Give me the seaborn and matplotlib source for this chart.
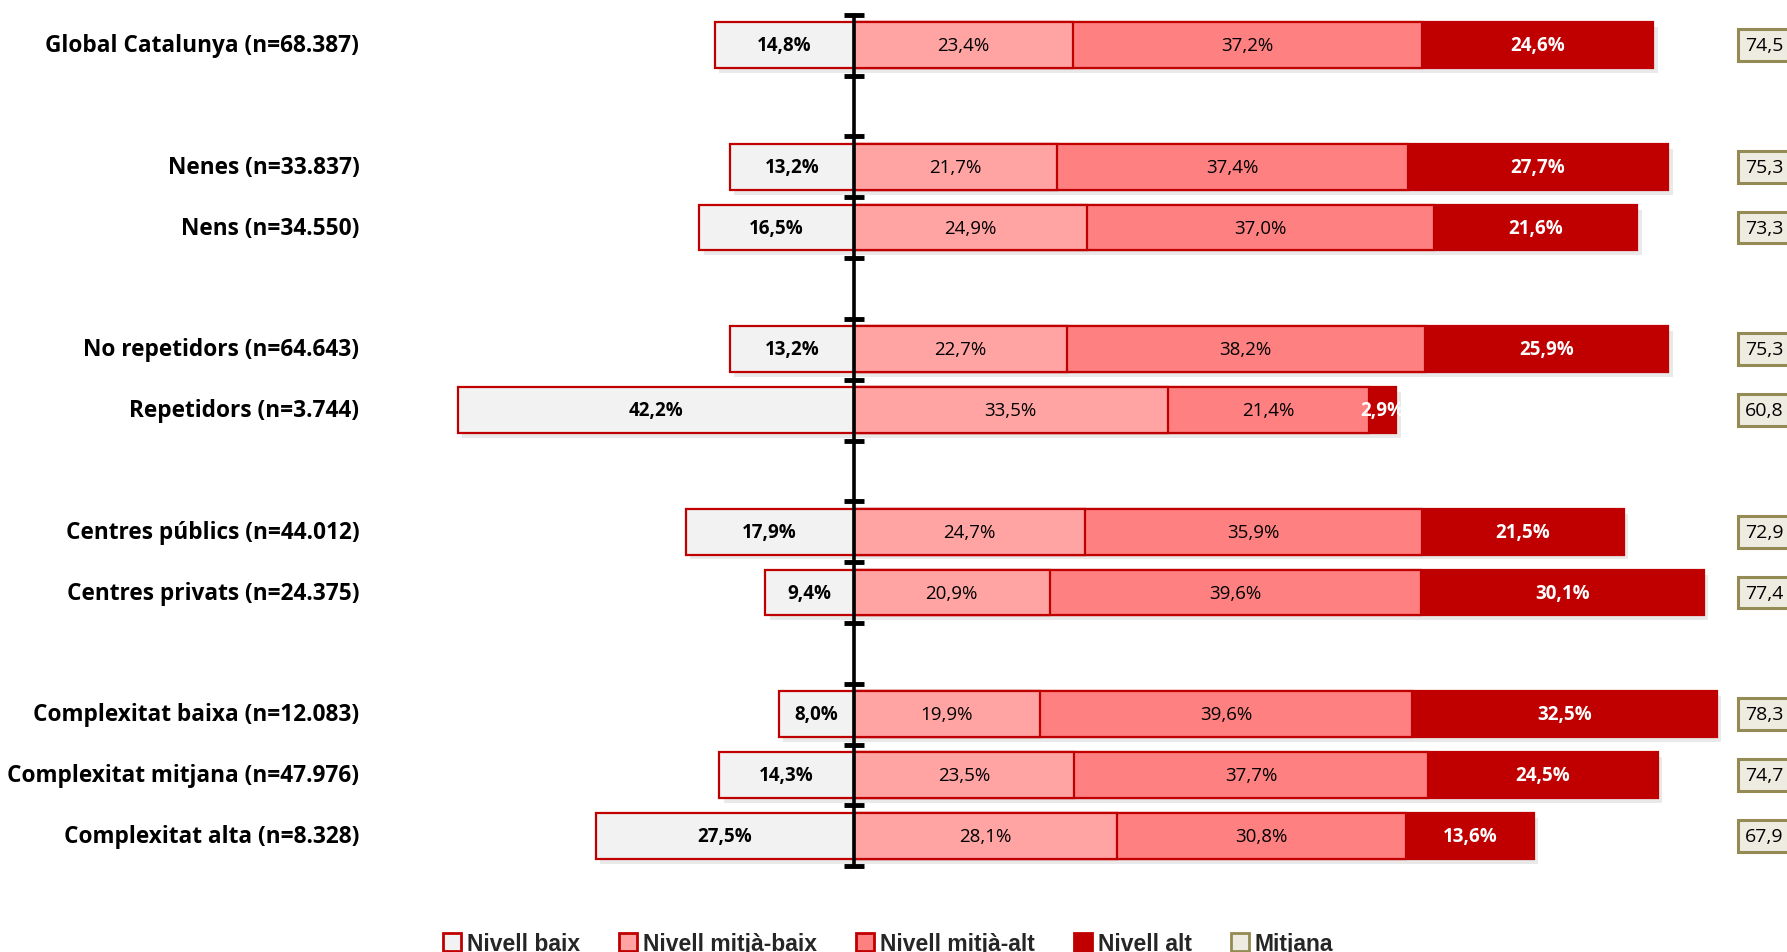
"""
plot.py - Diverging stacked bars of performance levels by group (Catalunya).
"""

import matplotlib.pyplot as plt
import numpy as np
import seaborn as sns
from matplotlib.patches import Patch

# ---- data -------------------------------------------------------------
groups = [
    "Global Catalunya (n=68.387)",
    "Nenes (n=33.837)",
    "Nens (n=34.550)",
    "No repetidors (n=64.643)",
    "Repetidors (n=3.744)",
    "Centres públics (n=44.012)",
    "Centres privats (n=24.375)",
    "Complexitat baixa (n=12.083)",
    "Complexitat mitjana (n=47.976)",
    "Complexitat alta (n=8.328)",
]
slots = [0, 2, 3, 5, 6, 8, 9, 11, 12, 13]

nivell_baix = [14.8, 13.2, 16.5, 13.2, 42.2, 17.9, 9.4, 8.0, 14.3, 27.5]
nivell_mitja_baix = [23.4, 21.7, 24.9, 22.7, 33.5, 24.7, 20.9, 19.9, 23.5, 28.1]
nivell_mitja_alt = [37.2, 37.4, 37.0, 38.2, 21.4, 35.9, 39.6, 39.6, 37.7, 30.8]
nivell_alt = [24.6, 27.7, 21.6, 25.9, 2.9, 21.5, 30.1, 32.5, 24.5, 13.6]
mitjana = [74.5, 75.3, 73.3, 75.3, 60.8, 72.9, 77.4, 78.3, 74.7, 67.9]

legend_labels = ["Nivell baix", "Nivell mitjà-baix", "Nivell mitjà-alt", "Nivell alt", "Mitjana"]

# ---- style ------------------------------------------------------------
RED = "#c00000"
C_BAIX = "#f2f2f2"
C_MBAIX = "#ffa3a3"
C_MALT = "#ff8080"
C_ALT = RED
C_MEAN = "#eeece1"
C_MEAN_EDGE = "#948a54"

sns.set_theme(style="white")
plt.rcParams["font.family"] = ["Open Sans", "DejaVu Sans"]

fig = plt.figure(figsize=(17.87, 9.53), dpi=100)
ax = fig.add_axes([0, 0, 1, 1])

y = np.array(slots, dtype=float)
baix = np.array(nivell_baix)
mb = np.array(nivell_mitja_baix)
ma = np.array(nivell_mitja_alt)
alt = np.array(nivell_alt)

# soft shadow under each bar
ax.barh(y + 0.08, baix + mb + ma + alt, left=-baix + 0.5, height=0.75,
        color="#d0d0d0", alpha=0.45, zorder=0.5, linewidth=0)

# stacked segments drawn as overlapping cumulative bars
bar_kw = dict(orient="y", native_scale=True, width=0.75, errorbar=None,
              saturation=1, linewidth=1.6, ax=ax, zorder=2)
sns.barplot(x=mb + ma + alt, y=y, color=C_ALT, edgecolor=RED, **bar_kw)
sns.barplot(x=mb + ma, y=y, color=C_MALT, edgecolor=RED, **bar_kw)
sns.barplot(x=mb, y=y, color=C_MBAIX, edgecolor=RED, **bar_kw)
sns.barplot(x=-baix, y=y, color=C_BAIX, edgecolor=RED, **bar_kw)


def fmt(v):
    return f"{v:.1f}%".replace(".", ",")


txt_size = 13.5
for i, yy in enumerate(y):
    ax.text(-baix[i] / 2, yy, fmt(baix[i]), ha="center", va="center",
            fontsize=txt_size, fontweight="bold", color="black", zorder=5)
    ax.text(mb[i] / 2, yy, fmt(mb[i]), ha="center", va="center",
            fontsize=txt_size, color="black", zorder=5)
    ax.text(mb[i] + ma[i] / 2, yy, fmt(ma[i]), ha="center", va="center",
            fontsize=txt_size, color="black", zorder=5)
    ax.text(mb[i] + ma[i] + alt[i] / 2, yy, fmt(alt[i]), ha="center", va="center",
            fontsize=txt_size, fontweight="bold", color="white", zorder=5)
    # group label
    ax.text(-52.7, yy, groups[i], ha="right", va="center",
            fontsize=16.3, fontweight="bold", color="black", zorder=5)
    # mean box
    ax.text(95.0, yy, f"{mitjana[i]:.1f}".replace(".", ","), ha="left", va="center",
            fontsize=14, color="black", zorder=5,
            bbox=dict(boxstyle="square,pad=0.35", facecolor=C_MEAN,
                      edgecolor=C_MEAN_EDGE, linewidth=2.2))

# central axis with tick marks at slot boundaries
ax.plot([0, 0], [-0.5, 13.5], color="black", linewidth=2.6, zorder=4)
bounds = np.arange(-0.5, 14.0, 1.0)
ax.plot(np.zeros_like(bounds), bounds, linestyle="none", marker="_",
        markersize=14, markeredgewidth=3.5, color="black", zorder=4)

ax.set_xlim(-91.0, 99.5)
ax.set_ylim(14.91, -0.76)
ax.axis("off")

handles = [
    Patch(facecolor=C_BAIX, edgecolor=RED, linewidth=2),
    Patch(facecolor=C_MBAIX, edgecolor=RED, linewidth=2),
    Patch(facecolor=C_MALT, edgecolor=RED, linewidth=2),
    Patch(facecolor=C_ALT, edgecolor=RED, linewidth=2),
    Patch(facecolor=C_MEAN, edgecolor=C_MEAN_EDGE, linewidth=2),
]
fig.legend(handles, legend_labels, loc="center", bbox_to_anchor=(0.497, 0.009),
           ncol=5, frameon=False, handlelength=0.8, handleheight=0.8,
           handletextpad=0.25, columnspacing=1.7,
           prop=dict(family=["Liberation Sans", "DejaVu Sans"],
                     weight="bold", size=16.5))

fig.savefig("out.png", dpi=100)
plt.close(fig)
